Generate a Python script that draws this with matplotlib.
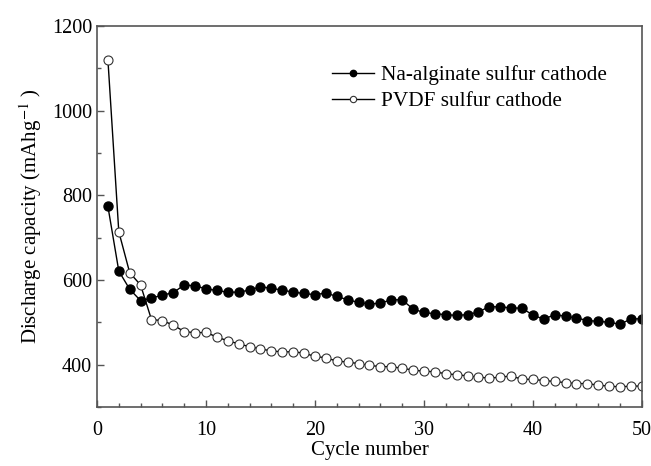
import matplotlib.pyplot as plt
import numpy as np
from matplotlib.ticker import MultipleLocator

cycles = np.arange(1, 51)

na_alginate = [774, 621, 578, 551, 557, 564, 570, 588, 586, 579,
               575, 571, 571, 576, 584, 580, 576, 571, 568, 565,
               569, 561, 553, 547, 543, 545, 553, 553, 531, 523,
               520, 518, 516, 518, 524, 537, 536, 534, 533, 517,
               507, 518, 514, 510, 504, 502, 500, 495, 508, 508]

pvdf = [1121, 714, 617, 588, 506, 504, 493, 478, 475, 476,
        465, 456, 449, 442, 437, 432, 430, 430, 427, 419,
        416, 408, 406, 402, 398, 395, 395, 391, 387, 384,
        383, 378, 376, 373, 370, 368, 370, 373, 365, 365,
        362, 360, 357, 355, 355, 351, 349, 347, 349, 349]

plt.rcParams['font.family'] = ['Liberation Serif', 'DejaVu Serif']
plt.rcParams['mathtext.fontset'] = 'stix'

fig = plt.figure(figsize=(6.51, 4.66), dpi=100)
ax = fig.add_axes([0.149, 0.127, 0.837, 0.817])

ax.plot(cycles, na_alginate, '-o', color='black', lw=1, ms=6.5,
        mfc='black', mec='black', label='Na-alginate sulfur cathode')
ax.plot(cycles, pvdf, '-o', color='black', lw=1, ms=6.5,
        mfc='white', mec='#333333', mew=0.8, label='PVDF sulfur cathode')

ax.set_xlim(0, 50)
ax.set_ylim(300, 1200)
ax.xaxis.set_major_locator(MultipleLocator(10))
ax.xaxis.set_minor_locator(MultipleLocator(2))
ax.yaxis.set_major_locator(MultipleLocator(200))
ax.yaxis.set_minor_locator(MultipleLocator(100))

grey = '#555555'
for s in ax.spines.values():
    s.set_color(grey)
    s.set_linewidth(1.2)
ax.tick_params(which='both', direction='in', colors=grey, labelcolor='black',
               labelsize=14.5, top=False, right=False)
ax.tick_params(which='major', length=5, width=1)
ax.tick_params(which='minor', length=3, width=1)
ax.tick_params(axis='x', pad=10)

ax.set_xlabel('Cycle number', fontsize=15, labelpad=1)
ax.set_ylabel('Discharge capacity (mAhg$^{-1}$ )', fontsize=15, labelpad=6)

ax.legend(loc='upper left', bbox_to_anchor=(0.415, 0.92), frameon=False,
          fontsize=15.3, markerscale=0.7, handlelength=2.0,
          handletextpad=0.3, labelspacing=0.3, borderaxespad=0)

fig.savefig('out.png', dpi=100)
